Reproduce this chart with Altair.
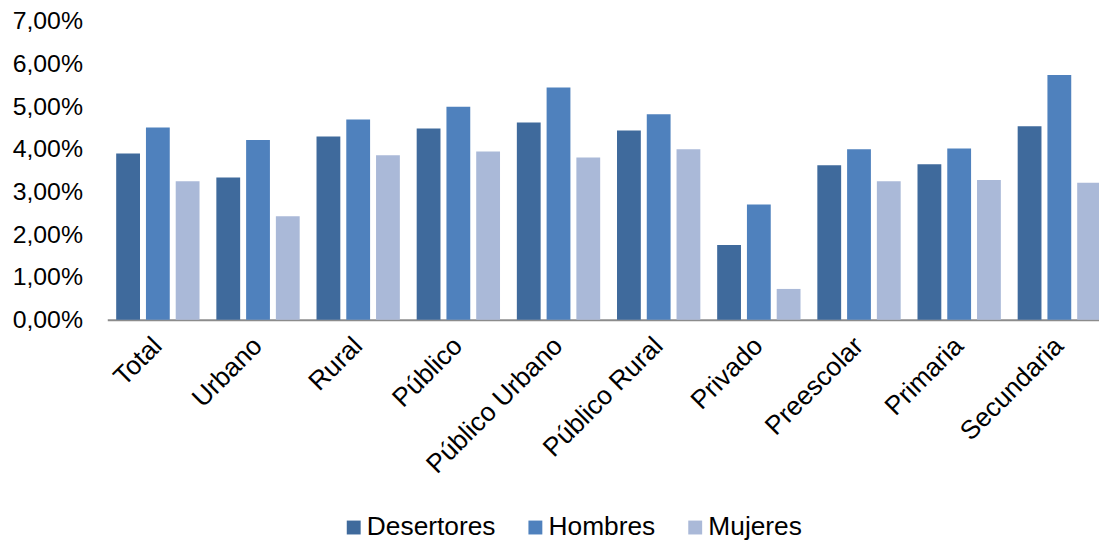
import altair as alt
import pandas as pd

categories = ["Total", "Urbano", "Rural", "Público", "Público Urbano",
              "Público Rural", "Privado", "Preescolar", "Primaria", "Secundaria"]
series = ["Desertores", "Hombres", "Mujeres"]
desertores = [3.89, 3.33, 4.29, 4.48, 4.62, 4.43, 1.75, 3.62, 3.64, 4.53]
hombres = [4.50, 4.21, 4.69, 4.99, 5.44, 4.81, 2.70, 3.99, 4.01, 5.73]
mujeres = [3.24, 2.42, 3.85, 3.94, 3.80, 3.99, 0.72, 3.24, 3.27, 3.21]
colors = ["#3F6A9C", "#4F81BD", "#AAB9D8"]
y_ticks = [0, 1, 2, 3, 4, 5, 6, 7]

rows = []
for name, vals in zip(series, [desertores, hombres, mujeres]):
    for c, v in zip(categories, vals):
        rows.append({"categoria": c, "serie": name, "valor": v})
df = pd.DataFrame(rows)

FONT = "Liberation Sans"

chart = alt.Chart(df).mark_bar().encode(
    x=alt.X("categoria:N", sort=categories, title=None,
            scale=alt.Scale(paddingInner=0.168, paddingOuter=0.089),
            axis=alt.Axis(labelAngle=-45, labelAlign="right", labelBaseline="middle",
                          labelFontSize=26.5, labelFont=FONT, labelColor="#000000",
                          labelPadding=22, labelLimit=400,
                          ticks=False, domainColor="#8C8C8C",
                          domainWidth=2, grid=False, labelOverlap=False)),
    xOffset=alt.XOffset("serie:N", sort=series,
                        scale=alt.Scale(paddingInner=0.2, paddingOuter=0)),
    y=alt.Y("valor:Q", title=None,
            scale=alt.Scale(domain=[0, 7], nice=False),
            axis=alt.Axis(values=y_ticks, grid=False, domain=False, ticks=False,
                          labelExpr="replace(format(datum.value, '.2f'), '.', ',') + '%'",
                          labelFontSize=25, labelFont=FONT, labelColor="#000000",
                          labelPadding=25)),
    color=alt.Color("serie:N", sort=series,
                    scale=alt.Scale(domain=series, range=colors),
                    legend=alt.Legend(title=None, orient="none", direction="horizontal",
                                      legendX=235, legendY=497,
                                      symbolType="square", symbolSize=196,
                                      symbolStrokeWidth=0, symbolOpacity=1,
                                      labelFontSize=26.5, labelFont=FONT,
                                      labelColor="#000000", columnPadding=26,
                                      labelOffset=0, padding=0, labelLimit=400)),
).properties(
    width=1010, height=301,
    autosize=alt.AutoSizeParams(type="none"),
    padding={"left": 100, "top": 11, "right": -11, "bottom": 221},
).configure_view(stroke=None)

chart.save("out.html", embed_options={"renderer": "svg", "actions": False})
